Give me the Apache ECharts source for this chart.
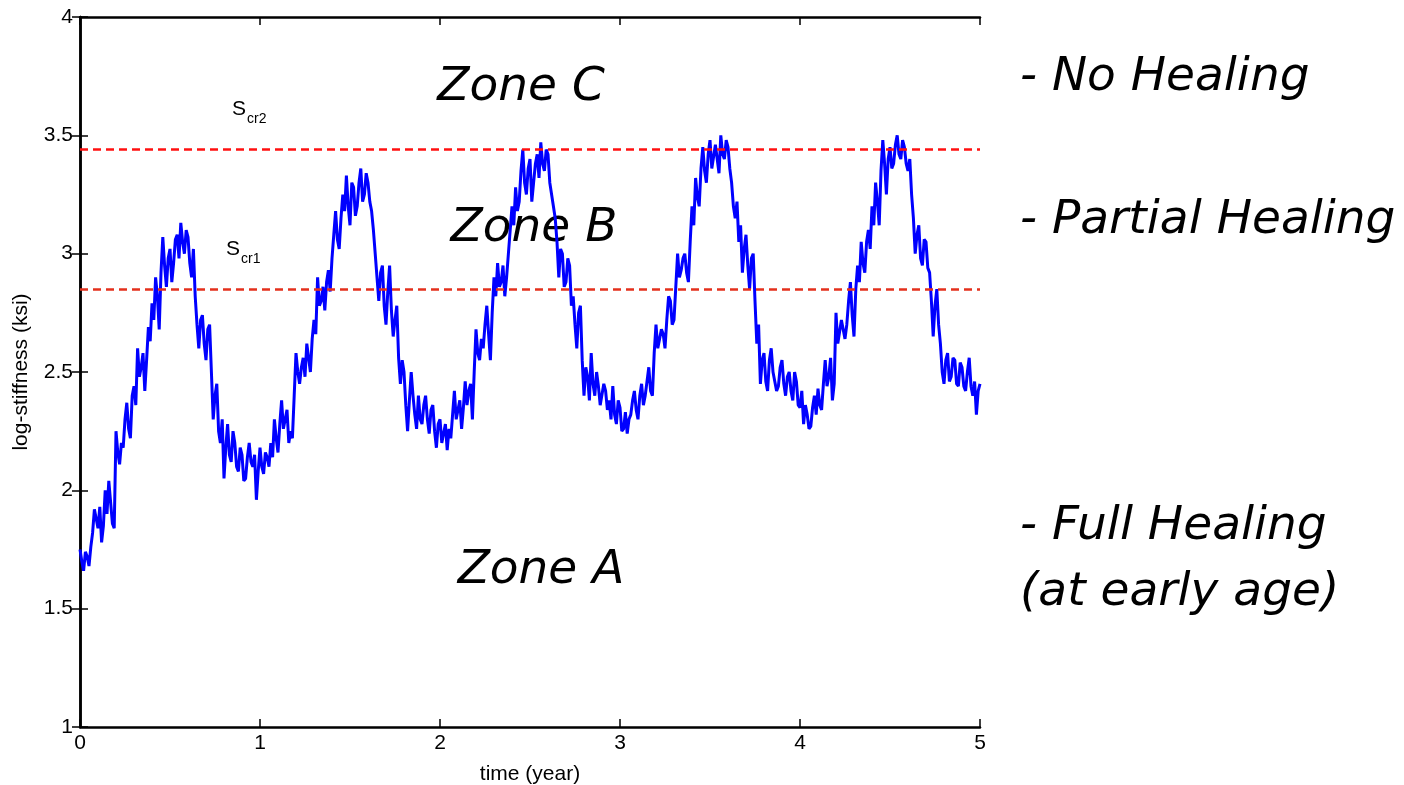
<!DOCTYPE html>
<html>
<head>
<meta charset="utf-8">
<script src="https://cdn.jsdelivr.net/npm/echarts@6/dist/echarts.min.js"></script>
<style>
html,body{margin:0;padding:0;background:#fff;}
#chart{width:1404px;height:785px;}
</style>
</head>
<body>
<div id="chart"></div>
<script>
// sampling step of the stiffness record (years)
const timeStep = 0.01;
// log-stiffness (ksi), one value every 0.01 year from 0 to 5
const stiffness = [
1.75,1.70,1.66,1.74,1.72,1.68,1.76,1.82,1.92,1.88,1.84,1.93,1.78,1.85,2.0,1.9,2.04,1.95,1.86,1.84,
2.25,2.16,2.11,2.2,2.18,2.3,2.37,2.26,2.22,2.4,2.44,2.36,2.6,2.48,2.52,2.58,2.42,2.55,2.69,2.63,
2.79,2.72,2.9,2.82,2.68,2.92,3.07,2.95,2.86,2.98,3.02,2.88,2.96,3.06,3.08,2.98,3.13,3.05,3.0,3.1,
3.07,2.96,2.9,3.02,2.82,2.7,2.6,2.72,2.74,2.62,2.55,2.68,2.7,2.5,2.3,2.4,2.45,2.25,2.2,2.3,
2.05,2.18,2.28,2.15,2.12,2.25,2.2,2.1,2.08,2.18,2.15,2.04,2.05,2.14,2.2,2.12,2.1,2.15,1.96,2.08,
2.18,2.1,2.07,2.16,2.14,2.1,2.2,2.14,2.3,2.22,2.16,2.28,2.38,2.26,2.3,2.34,2.2,2.25,2.22,2.4,
2.58,2.5,2.45,2.52,2.56,2.48,2.62,2.56,2.5,2.64,2.72,2.66,2.9,2.78,2.8,2.86,2.76,2.88,2.93,2.84,
2.98,3.08,3.18,3.06,3.02,3.15,3.25,3.18,3.33,3.2,3.12,3.3,3.28,3.16,3.2,3.3,3.36,3.22,3.25,3.34,
3.3,3.22,3.18,3.1,3.0,2.9,2.8,2.92,2.95,2.78,2.7,2.84,2.95,2.76,2.65,2.72,2.78,2.56,2.45,2.55,
2.5,2.36,2.25,2.38,2.5,2.4,2.32,2.26,2.4,2.3,2.28,2.36,2.4,2.3,2.24,2.34,2.36,2.25,2.18,2.28,
2.3,2.2,2.2,2.28,2.17,2.26,2.22,2.32,2.42,2.3,2.3,2.38,2.26,2.35,2.46,2.36,2.42,2.45,2.3,2.5,
2.68,2.58,2.55,2.64,2.6,2.7,2.78,2.66,2.55,2.75,2.9,2.82,2.96,2.86,2.88,2.95,2.82,2.9,3.0,3.1,
3.2,3.12,3.28,3.18,3.22,3.35,3.44,3.3,3.25,3.36,3.4,3.22,3.3,3.38,3.42,3.32,3.47,3.38,3.35,3.44,
3.42,3.3,3.25,3.2,3.15,3.05,2.9,3.02,3.0,2.86,2.88,2.98,2.95,2.78,2.82,2.7,2.6,2.75,2.78,2.55,
2.4,2.52,2.48,2.38,2.58,2.45,2.4,2.5,2.44,2.36,2.36,2.45,2.42,2.34,2.38,2.3,2.44,2.32,2.28,2.38,
2.35,2.25,2.26,2.33,2.24,2.3,2.32,2.38,2.42,2.34,2.3,2.4,2.45,2.36,2.4,2.46,2.52,2.42,2.4,2.58,
2.7,2.6,2.6,2.68,2.66,2.6,2.72,2.82,2.8,2.7,2.72,2.86,3.0,2.9,2.93,2.98,3.0,2.92,2.88,3.05,
3.2,3.12,3.32,3.24,3.2,3.36,3.45,3.35,3.3,3.42,3.48,3.36,3.36,3.46,3.4,3.34,3.5,3.42,3.4,3.48,
3.45,3.36,3.3,3.2,3.15,3.22,3.05,3.12,2.92,3.02,3.08,2.95,2.85,2.98,3.0,2.8,2.62,2.7,2.45,2.55,
2.58,2.46,2.42,2.55,2.6,2.5,2.46,2.42,2.44,2.52,2.55,2.45,2.4,2.48,2.5,2.42,2.38,2.5,2.46,2.36,
2.35,2.42,2.28,2.36,2.32,2.26,2.27,2.35,2.4,2.32,2.43,2.36,2.34,2.45,2.55,2.44,2.48,2.56,2.38,2.45,
2.75,2.62,2.62,2.72,2.72,2.64,2.7,2.8,2.88,2.74,2.65,2.85,2.95,2.88,3.05,2.96,2.92,3.05,3.1,3.02,
3.2,3.12,3.3,3.22,3.12,3.35,3.48,3.38,3.25,3.4,3.45,3.36,3.38,3.46,3.5,3.42,3.4,3.48,3.45,3.38,
3.35,3.4,3.25,3.15,3.0,3.08,3.12,2.98,2.95,3.06,3.05,2.94,2.92,2.8,2.65,2.78,2.85,2.7,2.62,2.5,
2.45,2.55,2.58,2.46,2.48,2.56,2.55,2.45,2.44,2.54,2.52,2.44,2.42,2.5,2.56,2.44,2.4,2.46,2.32,2.42,
2.45
];
// critical stiffness thresholds
const thresholdNames = ['cr2', 'cr1'];
const thresholdValues = [3.445, 2.85];
const thresholdColors = ['#ff1010', '#e4301c'];
// zone labels and healing descriptions
const zoneLabels = ['Zone C', 'Zone B', 'Zone A'];
const healingLabels = ['- No Healing', '- Partial Healing', '- Full Healing', '(at early age)'];
const xTicks = [0, 5, 1];   // min, max, interval
const yTicks = [1, 4, 0.5];

const seriesData = stiffness.map((v, i) => [+(i * timeStep).toFixed(2), v]);

const chart = echarts.init(document.getElementById('chart'), null, {renderer: 'canvas'});

const axisFont = {fontFamily: '"Liberation Sans Narrow", "Liberation Sans", Arial, sans-serif', fontSize: 21, color: '#000'};
const blackLine = {show: true, lineStyle: {color: '#000', width: 2.5}};
const tickIn = {show: true, inside: true, length: 8, lineStyle: {color: '#000', width: 1.5}};

const markLines = thresholdValues.map((v, i) => ({
  yAxis: v,
  lineStyle: {color: thresholdColors[i], type: [8, 5], width: 2.5},
  label: {show: false}
}));

const zonePos = [[521, 88], [534, 229], [541, 571]];
const healPos = [[1020, 78], [1020, 221], [1020, 527], [1020, 593]];
const subPos = [[232, 120], [226, 260]];

const graphics = [];
zoneLabels.forEach((t, i) => graphics.push({
  type: 'text', x: zonePos[i][0], y: zonePos[i][1], z: 1,
  style: {text: t, fill: '#000', font: 'italic 47px "DejaVu Sans", Verdana, sans-serif', textAlign: 'center', textVerticalAlign: 'middle'}
}));
healingLabels.forEach((t, i) => graphics.push({
  type: 'text', x: healPos[i][0], y: healPos[i][1], z: 1,
  style: {text: t, fill: '#000', font: 'italic 47px "DejaVu Sans", Verdana, sans-serif', textAlign: 'left', textVerticalAlign: 'middle'}
}));
thresholdNames.forEach((t, i) => graphics.push({
  type: 'text', x: subPos[i][0], y: subPos[i][1], z: 1,
  style: {
    text: '{s|S}{c|' + t + '}',
    textVerticalAlign: 'bottom',
    rich: {
      s: {fontSize: 21, fontFamily: '"Liberation Sans", Arial, sans-serif', fill: '#000', color: '#000', verticalAlign: 'bottom'},
      c: {fontSize: 14, fontFamily: '"Liberation Sans", Arial, sans-serif', fill: '#000', color: '#000', padding: [0, 0, -6, 1], verticalAlign: 'bottom'}
    }
  }
}));

chart.setOption({
  animation: false,
  backgroundColor: '#fff',
  grid: {left: 80, right: 424, top: 17, bottom: 58, outerBoundsMode: 'none', containLabel: false},
  xAxis: [
    {type: 'value', position: 'bottom', min: xTicks[0], max: xTicks[1], interval: xTicks[2],
     name: 'time (year)', nameLocation: 'middle', nameGap: 37,
     nameTextStyle: Object.assign({}, axisFont, {fontSize: 21}),
     axisLine: blackLine, axisTick: tickIn, splitLine: {show: false},
     axisLabel: Object.assign({margin: 6}, axisFont)},
    {type: 'value', position: 'top', min: xTicks[0], max: xTicks[1], interval: xTicks[2],
     axisLine: blackLine, axisTick: tickIn, splitLine: {show: false}, axisLabel: {show: false}}
  ],
  yAxis: [
    {type: 'value', position: 'left', min: yTicks[0], max: yTicks[1], interval: yTicks[2],
     name: 'log-stiffness (ksi)', nameLocation: 'middle', nameGap: 48, nameRotate: 90,
     nameTextStyle: Object.assign({}, axisFont, {fontSize: 21}),
     axisLine: blackLine, axisTick: tickIn, splitLine: {show: false},
     axisLabel: Object.assign({margin: 7}, axisFont)},
    {type: 'value', position: 'right', min: yTicks[0], max: yTicks[1], interval: yTicks[2],
     axisLine: blackLine, axisTick: tickIn, splitLine: {show: false}, axisLabel: {show: false}}
  ],
  graphic: graphics,
  series: [
    {type: 'line', data: seriesData, showSymbol: false, z: 3,
     lineStyle: {color: '#0000ff', width: 3}, itemStyle: {color: '#0000ff'}},
    {type: 'line', data: [], z: 4,
     markLine: {symbol: 'none', silent: true, data: markLines}}
  ]
});
</script>
</body>
</html>
